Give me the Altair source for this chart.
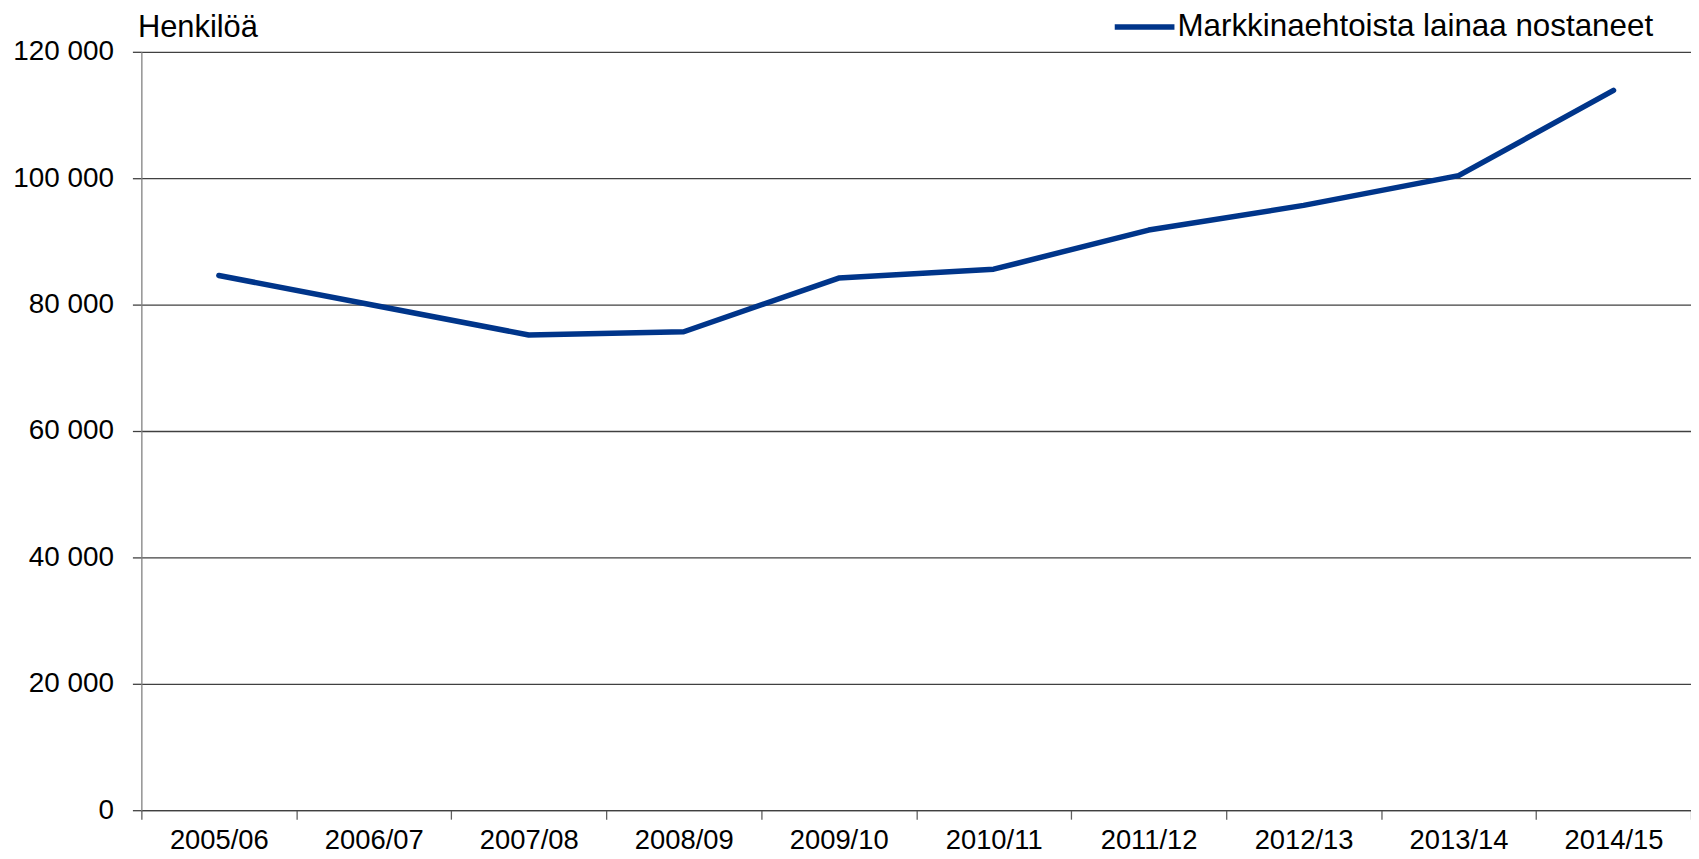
import altair as alt
import pandas as pd

years = ["2005/06", "2006/07", "2007/08", "2008/09", "2009/10",
         "2010/11", "2011/12", "2012/13", "2013/14", "2014/15"]
values = [84600, 79900, 75200, 75700, 84200, 85600, 91800, 95700, 100400, 113900]
series_name = "Markkinaehtoista lainaa nostaneet"
y_ticks = [0, 20000, 40000, 60000, 80000, 100000, 120000]

df = pd.DataFrame({"year": years, "value": values, "series": [series_name] * len(years)})

FONT = "Liberation Sans"
LINE_COLOR = "#00358A"

chart = alt.Chart(df).mark_line(strokeWidth=5.5, strokeCap="round", strokeJoin="round").encode(
    x=alt.X("year:N", sort=years, bandPosition=0.5,
            scale=alt.Scale(type="band", paddingInner=0, paddingOuter=0),
            axis=alt.Axis(title=None, labelAngle=0, tickBand="extent", grid=False,
                          domainColor="#404040", domainWidth=1.3,
                          tickColor="#606060", tickSize=9, tickWidth=1.3,
                          labelPadding=7, labelFontSize=27.5, labelFont=FONT,
                          labelColor="#000000")),
    y=alt.Y("value:Q", scale=alt.Scale(domain=[0, 120000], nice=False),
            axis=alt.Axis(values=y_ticks, title="Henkilöä",
                          labelExpr="datum.value == 0 ? '0' : floor(datum.value / 1000) + ' 000'",
                          grid=True, gridColor="#404040", gridWidth=1.3,
                          domain=True, domainColor="#808080", domainWidth=1.3,
                          tickColor="#404040", tickSize=9, tickWidth=1.3,
                          labelPadding=19, labelFontSize=28, labelFont=FONT,
                          labelColor="#000000",
                          titleAngle=0, titleX=-4, titleY=-15, titleAlign="left",
                          titleBaseline="alphabetic", titleFontSize=31,
                          titleFontWeight="normal", titleFont=FONT, titleColor="#000000")),
    color=alt.Color("series:N",
                    scale=alt.Scale(domain=[series_name], range=[LINE_COLOR]),
                    legend=alt.Legend(title=None, orient="none", legendX=975, legendY=-58,
                                      symbolType="stroke", symbolSize=3600,
                                      symbolStrokeWidth=5.5, labelFontSize=31.5,
                                      labelFont=FONT, labelColor="#000000",
                                      labelLimit=0, labelOffset=0, padding=0)),
).properties(
    width=1557, height=762,
    autosize=alt.AutoSizeParams(type="none"),
    padding={"left": 134, "top": 42, "right": 0, "bottom": 45},
).configure_view(stroke=None)

chart.save("out.html", embed_options={"renderer": "svg", "actions": False})
